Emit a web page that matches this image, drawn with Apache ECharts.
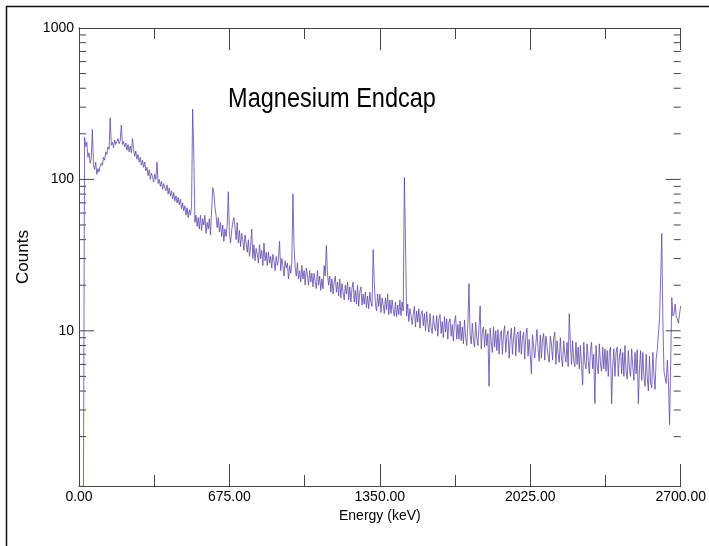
<!DOCTYPE html>
<html>
<head>
<meta charset="utf-8">
<script src="https://cdn.jsdelivr.net/npm/echarts@6/dist/echarts.min.js"></script>
<style>
html,body{margin:0;padding:0;background:#fff;}
#chart{width:709px;height:546px;}
</style>
</head>
<body>
<div id="chart"></div>
<script>
// Energy bin width (keV); each counts array starts at the given energy
var binWidth = 5;
var startA = 0, startB = 700, startC = 1400, startD = 2100;

var countsA = [
  0.94,0.94,0.94,0.94,0.94,190,165,176,140,150,
  128,138,214,124,116,130,108,118,112,122,
  128,124,140,134,152,146,164,158,255,168,
  176,162,182,170,168,186,172,180,228,170,
  178,164,174,156,170,152,166,150,186,158,
  142,154,136,146,130,140,124,134,120,130,
  114,120,106,116,100,110,104,96,108,100,
  130,94,100,90,97,86,94,88,84,92,
  80,88,78,84,74,82,72,78,70,76,
  68,74,64,70,62,67,58,65,56,63,
  58,66,291,150,52,58,49,56,47,58,
  46,55,50,58,44,52,47,55,43,62,
  88,82,66,58,48,56,45,52,42,50,
  39,47,42,50,83,44,38,46,52,56];

var countsB = [
  48,40,52,38,46,36,44,40,34,43,
  38,33,40,31,36,47,30,37,29,35,
  32,28,37,30,34,27,38,29,33,27,
  33,28,31,26,32,29,25,31,27,30,
  39,25,30,27,23,29,26,28,22,27,
  24,28,80,36,26,23,28,22,25,21,
  27,22,25,20,26,23,20,25,21,24,
  19.5,24,21,19,25,20,23,18.5,22,19,
  27,23,36.6,24,20,23,18,22,17.5,21,
  23,18,21,17,22,16.5,20.5,18,16,20,
  17.5,21,16,19.5,15.5,19,21,15.5,18.5,15,
  20,14.5,18,19.5,14.8,17.5,15,18,14.2,17,
  14,18,15.5,14.5,34.4,21,15,13.5,17.5,14.5,
  17.5,13.2,16.5,14.8,13,16.5,13.8,17.5,12.8,16];

var countsC = [
  13,16,13.8,12.5,15.5,12.4,14.8,12.8,16,12.6,
  15.5,13.5,103,40,12.5,15,11.5,14,12.6,11,
  12.8,14.5,10.6,13.5,11.4,14,10.4,13,13.6,10.8,
  13,10,13.4,11.2,9.8,13,10.5,9.6,12.6,10.6,
  10,12.6,9.2,12,12.8,9.6,11.5,9,12.4,9.8,
  12,8.8,11.4,12,9.2,11,8.6,11.6,12.6,8.8,
  11,8.8,11.6,8.6,10.6,8.2,11.8,9,8,11.2,
  20.5,9.4,8.2,11.2,8.6,7.8,11.4,9,8,10.6,
  14.6,7.6,10,10.6,7.8,10.2,8,9.6,4.3,10.4,
  8.4,7.2,10.6,7.8,10,7.4,10.2,7,9.4,10,
  7,9.6,10.8,7.2,9.2,10,6.6,8.8,10.4,7,
  9,10.6,6.8,9.4,9.8,7.2,10,7,9,9.8,
  6.5,9.2,10.4,6.8,8.8,7,5.2,9.4,9.6,6.6,
  8.2,10.2,7.6,6.3,9.4,6.6,8.8,9.6,6.4,9.2];

var countsD = [
  9.4,6.8,6.2,9.2,8.2,6.4,9,9.8,6,8.6,
  7,6.2,9,6.6,5.8,8.6,7,6.2,8.4,5.8,
  13,8.2,6,8.6,6.4,5.8,8.4,6,7.8,5.6,
  8,6,4.4,8.4,6.2,5.6,8.2,6.4,5.2,7.4,
  8.4,5.6,7,3.3,8,5.8,5.2,8.2,6,5.4,
  7.8,5.6,7.6,5.4,7.4,5,7.2,7.8,3.3,5.8,
  7.6,5,7.2,7.8,5,6.8,7.6,5.2,7.2,5,
  8,5.4,4.8,7.4,5.6,5,7.6,5.8,4.7,7.2,
  5.2,7.5,3.3,5.6,7.4,4.7,7.2,5,4.3,7,
  4.9,4,6.8,4.5,4.2,7.2,5,4.1,6.6,7.5,
  9.5,12,22,44,11.7,5.4,4.9,4.5,6.4,4.6,
  2.4,6,16.6,12.5,13,15,12.4,12,11.2,13,
  14.6];

// axis ticks
var xMin = 0, xMax = 2700, xInterval = 675;
var yMin = 0.944, yMax = 1000;
var yLabelValues = [10, 100, 1000];
var yMinorTicks = [2,3,4,5,6,7,8,9,20,30,40,50,60,70,80,90,200,300,400,500,600,700,800,900];
var yMajorTicks = [10, 100];

var title = 'Magnesium Endcap';
var xName = 'Energy (keV)';
var yName = 'Counts';

function toPoints(start, arr) {
  return arr.map(function (c, i) { return [start + i * binWidth, c]; });
}
var spectrum = [].concat(
  toPoints(startA, countsA),
  toPoints(startB, countsB),
  toPoints(startC, countsC),
  toPoints(startD, countsD)
);

var tickData = yMinorTicks.map(function (v) { return [0, v, 7]; })
  .concat(yMajorTicks.map(function (v) { return [0, v, 15]; }));

var font = 'Liberation Sans, Arial, Helvetica, sans-serif';
var axisColor = '#444';
var lineColor = '#6047ab';

var chart = echarts.init(document.getElementById('chart'), null, {renderer: 'canvas'});

function xAxisDef(pos, showLabel) {
  return {
    type: 'value', position: pos, min: xMin, max: xMax, interval: xInterval,
    name: showLabel ? xName : '', nameLocation: 'middle', nameGap: 23,
    nameTextStyle: {fontFamily: font, fontSize: 14, color: '#000'},
    axisLine: {show: true, lineStyle: {color: axisColor, width: 1}},
    axisTick: {show: true, inside: true, length: 22, lineStyle: {color: axisColor}},
    minorTick: {show: true, splitNumber: 2, length: 11, lineStyle: {color: axisColor}},
    splitLine: {show: false},
    axisLabel: {show: showLabel, margin: 4, fontFamily: font, fontSize: 14, color: '#000',
      formatter: function (v) { return v.toFixed(2); }}
  };
}
function yAxisDef(pos, showLabel) {
  return {
    type: 'log', logBase: 10, position: pos, min: yMin, max: yMax,
    name: showLabel ? yName : '', nameLocation: 'middle', nameGap: 47, nameRotate: 90,
    nameTextStyle: {fontFamily: font, fontSize: 17, color: '#000'},
    axisLine: {show: true, lineStyle: {color: axisColor, width: 1}},
    axisTick: {show: false},
    splitLine: {show: false},
    axisLabel: {show: showLabel, margin: 5, fontFamily: font, fontSize: 14, color: '#000',
      showMinLabel: true, showMaxLabel: true,
      formatter: function (v) {
        for (var i = 0; i < yLabelValues.length; i++) {
          if (Math.abs(v - yLabelValues[i]) < 1e-6 * yLabelValues[i]) return String(yLabelValues[i]);
        }
        return '';
      }}
  };
}

var option = {
  animation: false,
  backgroundColor: '#fff',
  grid: {left: 79, right: 26, top: 28, bottom: 60, containLabel: false},
  xAxis: [xAxisDef('bottom', true), xAxisDef('top', false)],
  yAxis: [yAxisDef('left', true), yAxisDef('right', false)],
  graphic: [
    {type: 'rect', shape: {x: 6.5, y: 6.5, width: 800, height: 600},
      style: {fill: 'none', stroke: '#111', lineWidth: 1.5}, silent: true},
    {type: 'text', x: 332, y: 99, scaleX: 0.84,
      style: {text: title, font: '28px ' + font, fill: '#000', align: 'center', verticalAlign: 'middle'}}
  ],
  series: [
    {
      type: 'line', xAxisIndex: 0, yAxisIndex: 0, data: spectrum,
      showSymbol: false, symbol: 'none',
      lineStyle: {color: lineColor, width: 0.8}, itemStyle: {color: lineColor},
      clip: true
    },
    {
      type: 'custom', xAxisIndex: 0, yAxisIndex: 0, data: tickData,
      encode: {x: 0, y: 1}, clip: false, silent: true,
      renderItem: function (params, api) {
        var v = api.value(1), len = api.value(2);
        var pL = api.coord([xMin, v]);
        var pR = api.coord([xMax, v]);
        return {type: 'group', children: [
          {type: 'line', shape: {x1: pL[0], y1: pL[1], x2: pL[0] + len, y2: pL[1]},
            style: {stroke: axisColor, lineWidth: 1}},
          {type: 'line', shape: {x1: pR[0], y1: pR[1], x2: pR[0] - len, y2: pR[1]},
            style: {stroke: axisColor, lineWidth: 1}}
        ]};
      }
    }
  ]
};
chart.setOption(option);
</script>
</body>
</html>
